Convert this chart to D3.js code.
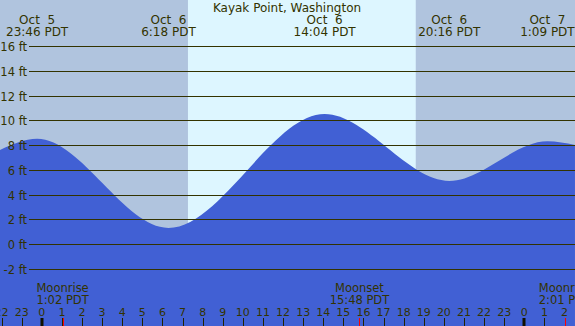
<!DOCTYPE html>
<html><head><meta charset="utf-8">
<script src="https://cdn.jsdelivr.net/npm/d3@7/dist/d3.min.js"></script>
<style>
html,body{margin:0;padding:0;background:#fff;}
svg{display:block;}
text{font-family:"DejaVu Sans",sans-serif;fill:#333300;white-space:pre;}
</style></head>
<body>
<script>
// ---- data (hours relative to Oct 6 00:00 PDT) ----
const title = "Kayak Point, Washington";
const tideHours   = [-2.08, -0.233, 6.3, 14.067, 20.267, 25.15, 26.52];
const tideHeights = [7.6, 8.5, 1.3, 10.5, 5.1, 8.3, 8.0];
const extremeHours = [-0.233, 6.3, 14.067, 20.267, 25.15];
const extremeDates = ["Oct  5", "Oct  6", "Oct  6", "Oct  6", "Oct  7"];
const extremeTimes = ["23:46 PDT", "6:18 PDT", "14:04 PDT", "20:16 PDT", "1:09 PDT"];
const sunrise = 7.27, sunset = 18.6;
const moonHours = [1.033, 15.8, 26.017];
const moonEvents = ["Moonrise", "Moonset", "Moonrise"];
const moonTimes = ["1:02 PDT", "15:48 PDT", "2:01 PDT"];
const heightTicks = [-2, 0, 2, 4, 6, 8, 10, 12, 14, 16];
const hourTicks = d3.range(-2, 27);
const midnightHours = [0, 24];

const W = 575, H = 326;
const x = d3.scaleLinear().domain([0, 24]).range([41.8, 524.3]);
const y = d3.scaleLinear().domain([0, 16]).range([244, 46]);

const svg = d3.select("body").append("svg").attr("width", W).attr("height", H);

// background night/day
svg.append("rect").attr("x", 0).attr("y", 0).attr("width", W).attr("height", H).attr("fill", "#b0c4de");
svg.append("rect").attr("x", x(sunrise)).attr("y", 0).attr("width", x(sunset) - x(sunrise)).attr("height", H).attr("fill", "#ddf6ff");

// water area
const pts = tideHours.map((h, i) => [h, tideHeights[i]]);
const area = d3.area().x(d => x(d[0])).y0(H).y1(d => y(d[1])).curve(d3.curveMonotoneX);
svg.append("path").datum(pts).attr("d", area).attr("fill", "#4160d4");

// title
svg.append("text").attr("x", 287).attr("y", 12).attr("text-anchor", "middle").attr("font-size", 12).text(title);

// height gridlines & labels
const g = svg.append("g");
heightTicks.forEach(v => {
  g.append("line").attr("x1", 29).attr("x2", W).attr("y1", Math.round(y(v)) + 0.5).attr("y2", Math.round(y(v)) + 0.5)
    .attr("stroke", "#333300").attr("stroke-width", 1);
  g.append("text").attr("x", 27).attr("y", Math.round(y(v)) + 4.5).attr("text-anchor", "end").attr("font-size", 11.5).text(v + " ft");
});

// tide extreme labels
extremeHours.forEach((h, i) => {
  svg.append("text").attr("x", x(h)).attr("y", 23.5).attr("text-anchor", "middle").attr("font-size", 12).text(extremeDates[i]);
  svg.append("text").attr("x", x(h)).attr("y", 36).attr("text-anchor", "middle").attr("font-size", 12).text(extremeTimes[i]);
});

// moon labels
moonHours.forEach((h, i) => {
  svg.append("text").attr("x", x(h)).attr("y", 291.5).attr("text-anchor", "middle").attr("font-size", 11.5).text(moonEvents[i]);
  svg.append("text").attr("x", x(h)).attr("y", 303.5).attr("text-anchor", "middle").attr("font-size", 11.5).text(moonTimes[i]);
});

// hour ticks
hourTicks.forEach(h => {
  const xp = Math.round(x(h)) + 0.5;
  svg.append("line").attr("x1", xp).attr("x2", xp).attr("y1", 318).attr("y2", H).attr("stroke", "#222200").attr("stroke-width", 1);
  svg.append("text").attr("x", x(h)).attr("y", 315.5).attr("text-anchor", "middle").attr("font-size", 11).text(((h % 24) + 24) % 24);
});
midnightHours.forEach(h => {
  svg.append("rect").attr("x", Math.round(x(h)) - 1.5).attr("y", 318).attr("width", 3).attr("height", H - 318).attr("fill", "#111100");
});
moonHours.forEach(h => {
  const xp = Math.round(x(h)) + 0.5;
  svg.append("line").attr("x1", xp).attr("x2", xp).attr("y1", 318).attr("y2", H).attr("stroke", "#ff0000").attr("stroke-width", 1);
});
</script>
</body></html>
